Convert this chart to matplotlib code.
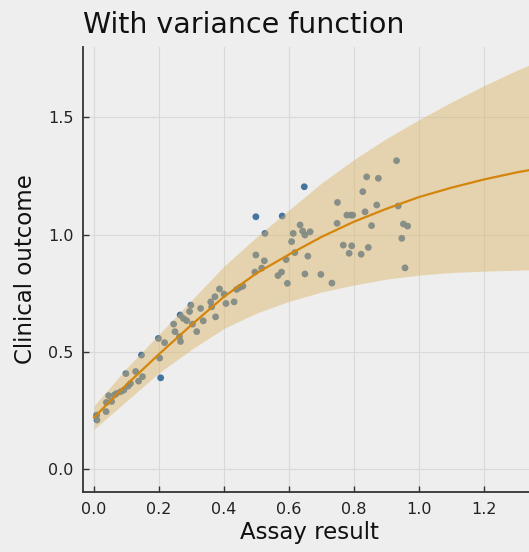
import numpy as np
import matplotlib.pyplot as plt

# assay / outcome observations
assay = [0.008, 0.009, 0.037, 0.038, 0.054, 0.045, 0.063, 0.069, 0.082, 0.092,
         0.105, 0.112, 0.098, 0.128, 0.137, 0.149, 0.146, 0.198, 0.202, 0.205,
         0.217, 0.245, 0.249, 0.263, 0.266, 0.265, 0.275, 0.285, 0.294, 0.298,
         0.303, 0.316, 0.328, 0.336, 0.359, 0.362, 0.372, 0.374, 0.386, 0.400,
         0.406, 0.431, 0.439, 0.449, 0.458,
         0.498, 0.524, 0.516, 0.495, 0.526, 0.498, 0.579, 0.647, 0.634, 0.613,
         0.642, 0.649, 0.665, 0.608, 0.618, 0.591, 0.658, 0.566, 0.577, 0.595,
         0.649, 0.698, 0.732, 0.749, 0.748,
         0.931, 0.839, 0.875, 0.827, 0.870, 0.936, 0.834, 0.778, 0.790, 0.796,
         0.854, 0.952, 0.965, 0.947, 0.767, 0.793, 0.844, 0.785, 0.822, 0.957]
outcome = [0.230, 0.209, 0.245, 0.284, 0.288, 0.313, 0.316, 0.322, 0.330, 0.337,
           0.354, 0.365, 0.407, 0.416, 0.375, 0.394, 0.486, 0.557, 0.473, 0.389,
           0.539, 0.618, 0.586, 0.565, 0.544, 0.657, 0.642, 0.633, 0.672, 0.699,
           0.618, 0.586, 0.685, 0.632, 0.713, 0.692, 0.735, 0.649, 0.768, 0.746,
           0.706, 0.713, 0.766, 0.775, 0.780,
           0.913, 0.888, 0.857, 0.840, 1.005, 1.076, 1.079, 1.204, 1.041, 1.005,
           1.015, 0.998, 1.012, 0.970, 0.923, 0.893, 0.908, 0.825, 0.840, 0.792,
           0.832, 0.830, 0.793, 1.137, 1.048,
           1.315, 1.246, 1.240, 1.183, 1.126, 1.122, 1.097, 1.083, 1.083, 1.083,
           1.038, 1.045, 1.036, 0.984, 0.955, 0.952, 0.945, 0.920, 0.916, 0.858]

# fitted mean and prediction band
grid_x = [0.0, 0.1, 0.2, 0.3, 0.4, 0.5, 0.6, 0.7, 0.8, 0.9, 1.0, 1.1, 1.2, 1.3, 1.4]
fit_mean = [0.22, 0.36, 0.49, 0.615, 0.735, 0.835, 0.915, 0.99, 1.055, 1.11,
            1.16, 1.20, 1.235, 1.265, 1.29]
band_hi = [0.27, 0.43, 0.575, 0.72, 0.865, 0.99, 1.105, 1.22, 1.32, 1.41,
           1.49, 1.565, 1.635, 1.70, 1.76]
band_lo = [0.17, 0.29, 0.41, 0.51, 0.60, 0.665, 0.715, 0.755, 0.785, 0.81,
           0.827, 0.838, 0.844, 0.848, 0.852]

bg = '#eeeeee'
plt.rcParams['font.family'] = 'DejaVu Sans'

fig = plt.figure(figsize=(5.29, 5.52), dpi=100, facecolor=bg)
ax = fig.add_axes([83 / 529, 1 - 492 / 552, 452 / 529, 445 / 552], facecolor=bg)

ax.scatter(assay, outcome, s=24, color='#3a6e9e', alpha=0.95,
           edgecolors='none', zorder=2)
ax.fill_between(grid_x, band_lo, band_hi, color='#dcb264', alpha=0.45,
                linewidth=0, zorder=3)
ax.plot(grid_x, fit_mean, color='#d4860c', linewidth=1.6, zorder=4)

ax.set_xlim(-0.034, 1.357)
ax.set_ylim(-0.098, 1.80)
ax.set_xticks([0.0, 0.2, 0.4, 0.6, 0.8, 1.0, 1.2])
ax.set_yticks([0.0, 0.5, 1.0, 1.5])
ax.xaxis.set_major_formatter(plt.FormatStrFormatter('%.1f'))
ax.yaxis.set_major_formatter(plt.FormatStrFormatter('%.1f'))

ax.grid(True, color='#d9d9d9', linewidth=0.8, zorder=0)
ax.set_axisbelow(True)
for side in ['top', 'right']:
    ax.spines[side].set_visible(False)
for side in ['left', 'bottom']:
    ax.spines[side].set_color('#333333')
    ax.spines[side].set_linewidth(1.3)
ax.tick_params(direction='in', length=4, width=1, color='#333333',
               labelsize=11.5, labelcolor='#222222', pad=7)

ax.set_xlabel('Assay result', fontsize=16.5, color='#111111', labelpad=3)
ax.set_ylabel('Clinical outcome', fontsize=16.5, color='#111111', labelpad=8)
ax.set_title('With variance function', loc='left', fontsize=20.5,
             color='#111111', pad=10)

fig.savefig('out.png', dpi=100, facecolor=bg)
